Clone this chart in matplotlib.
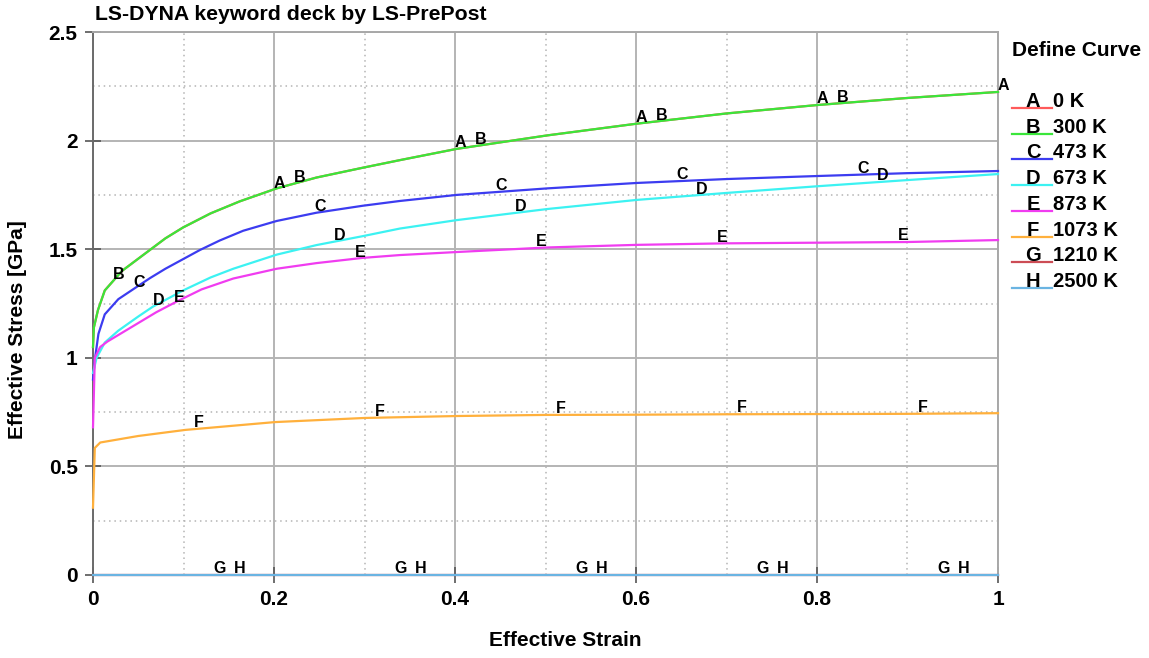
"""
Stress-strain curves at several temperatures, LS-PrePost look.
"""
import matplotlib
matplotlib.use("Agg")
import matplotlib.pyplot as plt
from matplotlib.lines import Line2D
from matplotlib.ticker import MultipleLocator, FormatStrFormatter
import numpy as np

plt.rcParams["font.family"] = ["Liberation Sans", "DejaVu Sans"]
plt.rcParams["font.weight"] = "bold"

# curve data (strain, stress in GPa)
b_strain = [0, 0.001, 0.0055, 0.013, 0.032, 0.064, 0.08, 0.0995, 0.13, 0.162, 0.203,
            0.247, 0.298, 0.339, 0.402, 0.502, 0.601, 0.70, 0.801, 0.899, 1.0]
b_stress = [1.05, 1.14, 1.22, 1.31, 1.40, 1.50, 1.55, 1.60, 1.665, 1.72, 1.78,
            1.83, 1.875, 1.91, 1.962, 2.024, 2.078, 2.125, 2.164, 2.196, 2.224]

# 0 K curve lies under the 300 K one
a_strain = list(b_strain)
a_stress = list(b_stress)

c_strain = [0, 0.002, 0.006, 0.013, 0.028, 0.046, 0.063, 0.08, 0.118, 0.14, 0.166,
            0.203, 0.247, 0.298, 0.339, 0.402, 0.502, 0.601, 0.70, 0.801, 0.899, 1.0]
c_stress = [0.90, 0.99, 1.11, 1.20, 1.27, 1.32, 1.367, 1.41, 1.496, 1.54, 1.585,
            1.63, 1.668, 1.70, 1.722, 1.75, 1.78, 1.805, 1.823, 1.837, 1.85, 1.86]

d_strain = [0, 0.004, 0.013, 0.028, 0.05, 0.066, 0.0995, 0.13, 0.155, 0.203, 0.247,
            0.298, 0.339, 0.402, 0.502, 0.601, 0.70, 0.801, 0.899, 1.0]
d_stress = [0.93, 1.0, 1.07, 1.125, 1.19, 1.235, 1.31, 1.37, 1.41, 1.475, 1.519,
            1.56, 1.595, 1.634, 1.685, 1.727, 1.759, 1.79, 1.818, 1.846]

e_strain = [0, 0.002, 0.008, 0.016, 0.03, 0.05, 0.07, 0.093, 0.12, 0.155, 0.203,
            0.247, 0.298, 0.339, 0.402, 0.502, 0.601, 0.70, 0.801, 0.899, 1.0]
e_stress = [0.68, 1.0, 1.05, 1.075, 1.11, 1.16, 1.21, 1.26, 1.315, 1.365, 1.41,
            1.436, 1.46, 1.473, 1.487, 1.508, 1.52, 1.527, 1.53, 1.533, 1.542]

f_strain = [0, 0.002, 0.008, 0.05, 0.102, 0.201, 0.30, 0.403, 0.5, 0.6, 0.7, 0.8, 0.9, 1.0]
f_stress = [0.31, 0.585, 0.61, 0.64, 0.668, 0.704, 0.723, 0.732, 0.737, 0.738,
            0.74, 0.741, 0.742, 0.745]

g_strain = [0, 1.0]
g_stress = [0, 0]
h_strain = [0, 1.0]
h_stress = [0, 0]

letters = ["A", "B", "C", "D", "E", "F", "G", "H"]
temps = ["0 K", "300 K", "473 K", "673 K", "873 K", "1073 K", "1210 K", "2500 K"]
colors = ["#ff5a5a", "#3ae63a", "#3c3cf0", "#3cf2f2", "#f03cf0",
          "#ffb03c", "#cc4c55", "#6ab4e2"]

strains = [a_strain, b_strain, c_strain, d_strain, e_strain, f_strain, g_strain, h_strain]
stresses = [a_stress, b_stress, c_stress, d_stress, e_stress, f_stress, g_stress, h_stress]

W, H = 1149, 658
fig = plt.figure(figsize=(W / 100, H / 100), dpi=100)
ax = fig.add_axes([93 / W, 1 - 575 / H, (998 - 93) / W, (575 - 32) / H])

for k in range(8):
    x = np.array(strains[k])
    y = np.array(stresses[k])
    ax.plot(x, y, color=colors[k], lw=1.6, clip_on=False, zorder=3 + k * 0.1)
    # curve letters every 0.2, shifted a bit per curve
    off = k * 0.2 / 9
    for j in range(6):
        xl = off + 0.2 * j
        if xl <= 0 or xl > 1.0001:
            continue
        yl = np.interp(xl, x, y)
        ax.annotate(letters[k], (xl, yl), xytext=(0, 4.5), textcoords="offset points",
                    ha="left", va="center", fontsize=11.5, fontweight="bold",
                    annotation_clip=False, zorder=6)

ax.set_xlim(0, 1)
ax.set_ylim(0, 2.5)
ax.xaxis.set_major_locator(MultipleLocator(0.2))
ax.xaxis.set_minor_locator(MultipleLocator(0.1))
ax.yaxis.set_major_locator(MultipleLocator(0.5))
ax.yaxis.set_minor_locator(MultipleLocator(0.25))
ax.xaxis.set_major_formatter(FormatStrFormatter("%g"))
ax.yaxis.set_major_formatter(FormatStrFormatter("%g"))

ax.grid(which="major", color="#b4b4b4", lw=1.4, ls="-")
ax.grid(which="minor", color="#b4b4b4", lw=1.1, ls=(0, (1, 2.5)))
ax.set_axisbelow(True)
ax.tick_params(which="major", direction="inout", length=12, width=1.2, color="#555555",
               labelsize=15, pad=5)
ax.tick_params(which="minor", length=0)
for lab in ax.get_xticklabels() + ax.get_yticklabels():
    lab.set_fontweight("bold")

for s in ["left", "bottom"]:
    ax.spines[s].set_color("#6a6a6a")
    ax.spines[s].set_linewidth(1.4)
for s in ["top", "right"]:
    ax.spines[s].set_color("#a8a8a8")
    ax.spines[s].set_linewidth(1.4)

fig.text(565 / W, 1 - 641 / H, "Effective Strain", fontsize=15, fontweight="bold",
         ha="center", va="center")
fig.text(18 / W, 1 - 330 / H, "Effective Stress [GPa]", fontsize=15, fontweight="bold",
         ha="center", va="center", rotation=90)
fig.text(95 / W, 1 - 15 / H, "LS-DYNA keyword deck by LS-PrePost", fontsize=15.3,
         fontweight="bold", ha="left", va="center")

# legend drawn by hand like LS-PrePost does it
fig.text(1012 / W, 1 - 50 / H, "Define Curve", fontsize=15, fontweight="bold",
         ha="left", va="center")
for k in range(8):
    yb = 108 + k * 25.7
    fig.add_artist(Line2D([1012 / W, 1052 / W], [1 - yb / H, 1 - yb / H],
                          color=colors[k], lw=1.6, transform=fig.transFigure))
    fig.text(1033 / W, 1 - (yb - 1) / H, letters[k], fontsize=14.5, fontweight="bold",
             ha="center", va="baseline")
    fig.text(1053 / W, 1 - (yb - 1) / H, temps[k], fontsize=14.5, fontweight="bold",
             ha="left", va="baseline")

fig.savefig("out.png", dpi=100, facecolor="white")
